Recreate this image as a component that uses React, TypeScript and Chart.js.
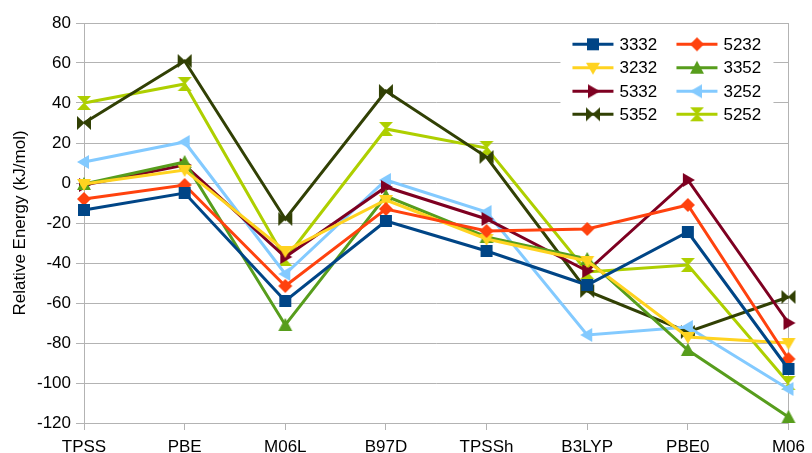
import React, { useEffect, useRef } from 'react';
import { Chart, registerables } from 'chart.js';
Chart.register(...registerables);

const categories = ['TPSS', 'PBE', 'M06L', 'B97D', 'TPSSh', 'B3LYP', 'PBE0', 'M06'];
const yTicks = [80, 60, 40, 20, 0, -20, -40, -60, -80, -100, -120];

const seriesNames = ['3332', '5232', '3232', '3352', '5332', '3252', '5352', '5252'];
const s3332 = [-13.5, -5, -59, -19, -34, -51, -24.5, -93];
const s5232 = [-8, -1, -51.5, -13, -24, -23, -11, -88];
const s3232 = [-0.5, 6.5, -34, -8.5, -28, -39, -77, -80];
const s3352 = [-0.5, 10.5, -71, -6.5, -27, -38, -83.5, -117];
const s5332 = [-1, 9, -37, -2, -18, -44, 1.5, -70];
const s3252 = [10.5, 20.5, -45.5, 1.5, -14.5, -76, -72, -103];
const s5352 = [30, 61, -18, 46, 13, -54, -74.5, -57];
const s5252 = [40, 49.5, -38, 27, 17.5, -44.5, -41, -100];

const seriesValues = [s3332, s5232, s3232, s3352, s5332, s3252, s5352, s5252];
const seriesColors = ['#004586', '#ff420e', '#ffd320', '#579d1c', '#7e0021', '#83caff', '#314004', '#aecf00'];
const seriesShapes = ['square', 'diamond', 'triDown', 'triUp', 'triRight', 'triLeft', 'bowtie', 'hourglass'];

function makeMarker(shape: string, color: string): HTMLCanvasElement {
  const size = 18;
  const cv = document.createElement('canvas');
  cv.width = size;
  cv.height = size;
  const ctx = cv.getContext('2d')!;
  const c = size / 2;
  ctx.fillStyle = color;
  const poly = (pts: number[][]) => {
    ctx.beginPath();
    ctx.moveTo(pts[0][0], pts[0][1]);
    for (let i = 1; i < pts.length; i++) ctx.lineTo(pts[i][0], pts[i][1]);
    ctx.closePath();
    ctx.fill();
  };
  switch (shape) {
    case 'square':
      ctx.fillRect(c - 6, c - 6, 12, 12);
      break;
    case 'diamond':
      poly([[c, c - 7], [c + 7, c], [c, c + 7], [c - 7, c]]);
      break;
    case 'triDown':
      poly([[c - 7, c - 5], [c + 7, c - 5], [c, c + 7]]);
      break;
    case 'triUp':
      poly([[c - 7, c + 6], [c + 7, c + 6], [c, c - 7]]);
      break;
    case 'triRight':
      poly([[c - 5, c - 7], [c - 5, c + 7], [c + 7, c]]);
      break;
    case 'triLeft':
      poly([[c + 5, c - 7], [c + 5, c + 7], [c - 7, c]]);
      break;
    case 'bowtie':
      poly([[c - 7, c - 7], [c + 0.5, c], [c - 7, c + 7]]);
      poly([[c + 7, c - 7], [c - 0.5, c], [c + 7, c + 7]]);
      break;
    case 'hourglass':
      poly([[c - 7, c - 7], [c + 7, c - 7], [c, c + 0.5]]);
      poly([[c - 7, c + 7], [c + 7, c + 7], [c, c - 0.5]]);
      break;
  }
  return cv;
}

const FONT = '"Liberation Sans", Arial, sans-serif';
const GRID = '#b3b3b3';

export default function App() {
  const ref = useRef<HTMLCanvasElement | null>(null);

  useEffect(() => {
    document.body.style.margin = '0';
    const markers = seriesShapes.map((s, i) => makeMarker(s, seriesColors[i]));

    const legendPlugin = {
      id: 'customLegend',
      afterDraw(chart: any) {
        const ctx = chart.ctx as CanvasRenderingContext2D;
        const area = chart.chartArea;
        const boxRight = area.right - 15;
        const boxLeft = boxRight - 213;
        const boxTop = area.top + 6;
        ctx.save();
        ctx.fillStyle = '#ffffff';
        ctx.fillRect(boxLeft, boxTop, 213, 100);
        ctx.font = `17px ${FONT}`;
        ctx.textBaseline = 'middle';
        ctx.textAlign = 'left';
        const rowY = [44.3, 67.7, 91.3, 114.3];
        const colX = [boxLeft + 12, boxLeft + 116];
        seriesNames.forEach((name, i) => {
          const row = Math.floor(i / 2);
          const col = i % 2;
          const x0 = colX[col];
          const y = rowY[row];
          ctx.strokeStyle = seriesColors[i];
          ctx.lineWidth = 3;
          ctx.beginPath();
          ctx.moveTo(x0, y);
          ctx.lineTo(x0 + 41, y);
          ctx.stroke();
          const m = markers[i];
          ctx.drawImage(m, x0 + 20.5 - m.width / 2, y - m.height / 2);
          ctx.fillStyle = '#000000';
          ctx.fillText(name, x0 + 47, y + 1);
        });
        ctx.restore();
      },
    };

    const chart = new Chart(ref.current!, {
      type: 'line',
      data: {
        labels: categories,
        datasets: seriesNames.map((name, i) => ({
          label: name,
          data: seriesValues[i],
          borderColor: seriesColors[i],
          backgroundColor: seriesColors[i],
          borderWidth: 3,
          pointStyle: markers[i] as any,
          pointRadius: 6,
          pointHoverRadius: 6,
          tension: 0,
          fill: false,
          clip: false as any,
        })),
      },
      options: {
        responsive: false,
        animation: false,
        events: [],
        layout: { padding: { left: 0, right: 19, top: 23, bottom: 0 } },
        plugins: {
          legend: { display: false },
          tooltip: { enabled: false },
        },
        scales: {
          x: {
            type: 'category',
            offset: false,
            afterFit: (s: any) => { s.height = 30; },
            grid: {
              color: (ctx: any) => (ctx.index === 0 || ctx.index === categories.length - 1 ? GRID : 'rgba(0,0,0,0)'),
              tickColor: GRID,
              tickLength: 7,
              lineWidth: 1,
            },
            border: { display: true, color: GRID },
            ticks: {
              color: '#000000',
              font: { family: FONT, size: 17 },
              padding: 7,
              maxRotation: 0,
              autoSkip: false,
            },
          },
          y: {
            min: -120,
            max: 80,
            afterFit: (s: any) => { s.width = 84; },
            afterBuildTicks: (s: any) => { s.ticks = yTicks.map((v) => ({ value: v })); },
            grid: { color: GRID, tickColor: GRID, tickLength: 8, lineWidth: 1 },
            border: { display: true, color: GRID },
            ticks: {
              color: '#000000',
              font: { family: FONT, size: 17 },
              padding: 5,
              stepSize: 20,
            },
            title: {
              display: true,
              text: 'Relative Energy (kJ/mol)',
              color: '#000000',
              font: { family: FONT, size: 17 },
              padding: { top: 10, bottom: 0 },
            },
          },
        },
      },
      plugins: [legendPlugin],
    });
    return () => chart.destroy();
  }, []);

  return (
    <div style={{ position: 'absolute', left: 0, top: 0, width: 812, height: 453, background: '#ffffff' }}>
      <canvas ref={ref} width={812} height={453} style={{ width: 812, height: 453, display: 'block' }} />
    </div>
  );
}
